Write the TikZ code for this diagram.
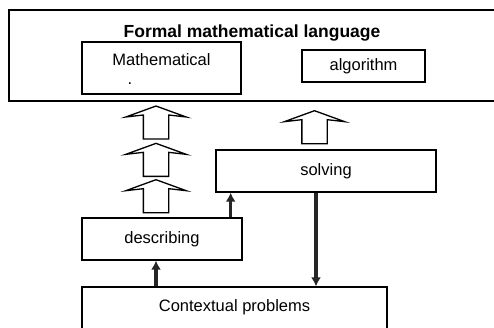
\documentclass[tikz,border=0pt]{standalone}
\usepackage{fontspec}
\setmainfont{Liberation Sans}
\usetikzlibrary{arrows.meta,positioning,shapes.arrows}

\begin{document}
\begin{tikzpicture}[
  x=1pt, y=-1pt,
  font=\fontsize{16.5}{19}\selectfont,
  box/.style={draw, line width=1.3pt, inner sep=0pt},
  flow/.style={-{Latex[length=9pt,width=10pt]}, line width=3.2pt, black!85},
  hollow/.style={single arrow, draw, fill=white, line width=1.3pt, shape border rotate=90,
    inner sep=12pt, minimum height=33pt, single arrow head extend=17.5pt,
    single arrow tip angle=140, single arrow head indent=2pt, anchor=tail}
]
\useasboundingbox (0,0) rectangle (494,327);
% formal language
\node[box, line width=1.5pt, minimum width=493pt, minimum height=91pt] (lang) at (255.5,55.5) {};
\node[font=\bfseries\fontsize{17.5}{20}\selectfont] (title) at (252,33) {Formal mathematical language};
\node[box, minimum width=159pt, minimum height=52pt, text height=12pt, text depth=18pt] (math) at (161.5,68) {Mathematical};
\node (mathdot) at (130,84) {.};
\node[box, minimum width=123pt, minimum height=32pt] (algo) at (363.5,66) {algorithm};
% lower boxes
\node[box, minimum width=220pt, minimum height=42pt] (solve) at (326,171) {solving};
\node[box, minimum width=160pt, minimum height=42pt] (desc) at (162,239) {describing};
\node[box, minimum width=305pt, minimum height=50pt, text height=12pt, text depth=14pt] (ctx) at (234.5,312) {Contextual problems};
% hollow arrows
\node[hollow] (up3) at ([xshift=-6pt,yshift=4pt]desc.north) {};
\node[hollow] (up2) at ([yshift=2pt]up3.tip) {};
\node[hollow] (up1) at ([yshift=3pt]up2.tip) {};
\node[hollow] (up4) at ([xshift=-11.5pt,yshift=5pt]solve.north) {};
% flows
\path (desc.south) ++(-6,0) coordinate (d1);
\path (desc.north east) ++(-12,0) coordinate (d2);
\path (solve.south) ++(-10,0) coordinate (s1);
\draw[flow] (d1 |- ctx.north) -- (d1);
\draw[flow] (d2) -- (d2 |- solve.south);
\draw[flow] (s1) -- (s1 |- ctx.north);
\end{tikzpicture}
\end{document}
